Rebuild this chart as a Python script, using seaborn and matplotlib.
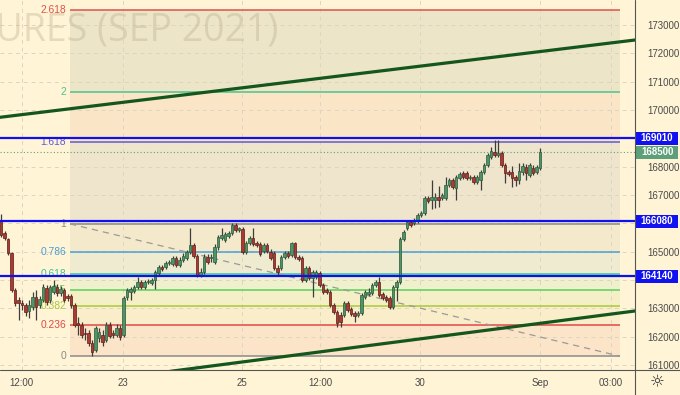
import matplotlib
matplotlib.use("Agg")
import matplotlib.pyplot as plt
import matplotlib.transforms as mtransforms
from matplotlib.patches import Rectangle
from matplotlib.lines import Line2D
import numpy as np
import pandas as pd
import seaborn as sns

# ---------------- data (candles) ----------------
opens = [
    166120, 165660, 165450, 164950, 163650, 163290, 163190, 163120, 162900, 163050,
    163400, 163120, 163290, 163720, 163290, 163580, 163750, 163540, 163650, 163430,
    163430, 163120, 162480, 162410, 162130, 162130, 161780, 161530, 161950, 162060,
    161880, 162410, 162130, 162060, 162310, 162060, 163400, 163580, 163610, 163750,
    163930, 163750, 163930, 163890, 164000, 164250, 164460, 164460, 164600, 164560,
    164780, 164530, 164710, 164780, 164990, 165230, 164850, 164180, 164280, 164810,
    164780, 164630, 165160, 165480, 165410, 165550, 165660, 165940, 165760, 165800,
    164990, 165310, 165480, 165310, 165270, 165020, 165230, 164990, 164950, 164420,
    164420, 164810, 164950, 164880, 165310, 164810, 164780, 164000, 164420, 164070,
    164110, 164250, 163820, 163650, 163580, 163120, 162870, 162760, 162760, 163190,
    162980, 162830, 162760, 162830, 163400, 163510, 163540, 163820, 163930, 163510,
    163400, 163360, 163050, 163750, 163930, 165450, 165830, 166050, 166010, 166080,
    166290, 166360, 166890, 166820, 166820, 166930, 166890, 166890, 167350, 167530,
    167250, 167600, 167780, 167780, 167600, 167630, 167460, 167530, 167810, 168060,
    168340, 168520, 168410, 168480, 168060, 167810, 167810, 167630, 167530, 167810,
    167990, 167710, 167950, 167810, 167950,
]
highs = [
    166330, 165730, 165480, 164990, 163720, 163400, 163290, 163190, 163290, 163580,
    163650, 163430, 163860, 163820, 163820, 164000, 163860, 163790, 163720, 163510,
    163510, 163190, 162690, 162520, 162310, 162230, 161880, 162380, 162310, 162230,
    162520, 162520, 162230, 162450, 162410, 163430, 163720, 163750, 163820, 164110,
    164000, 164000, 164030, 164070, 164350, 164530, 164530, 164670, 164710, 164850,
    164850, 164810, 164950, 165060, 165830, 165310, 164920, 164420, 164920, 164920,
    164920, 165270, 165590, 165830, 165690, 165730, 166010, 166010, 165870, 165870,
    165380, 165550, 165830, 165380, 165340, 165310, 165310, 165090, 165020, 164530,
    164880, 165020, 165020, 165340, 165340, 164880, 164850, 164490, 164490, 164350,
    164350, 164320, 163890, 163720, 163650, 163190, 162940, 162870, 163260, 163260,
    163050, 162900, 162900, 163540, 163650, 163720, 163890, 164000, 164110, 163580,
    163470, 163430, 163820, 164000, 165520, 165760, 166120, 166120, 166190, 166360,
    166430, 166960, 166960, 167530, 167070, 167320, 167070, 167630, 167600, 167600,
    167710, 167810, 167850, 167850, 167710, 167710, 167710, 167880, 168130, 168480,
    168690, 168940, 168940, 168550, 168130, 167880, 168020, 167710, 168130, 168130,
    168090, 168130, 168060, 168060, 168660,
]
lows = [
    165520, 165410, 164880, 163580, 163080, 162590, 162940, 162730, 162660, 162940,
    162590, 163010, 163220, 163120, 163190, 163510, 163430, 163430, 163220, 163260,
    163010, 162340, 162060, 161950, 161880, 161670, 161320, 161460, 161810, 161670,
    161810, 161950, 161950, 161990, 161880, 161990, 163290, 163290, 163540, 163680,
    163680, 163680, 163860, 163820, 163680, 164180, 164320, 164390, 164530, 164490,
    164460, 164460, 164630, 164710, 164920, 164780, 164110, 164110, 164210, 164560,
    164630, 164560, 165060, 165410, 165340, 165480, 165590, 165690, 165690, 164920,
    164920, 165230, 165200, 165160, 164850, 164950, 164950, 164710, 164350, 164180,
    164350, 164740, 164780, 164810, 164740, 164670, 163930, 163930, 164000, 163400,
    164030, 163750, 163510, 163510, 163050, 162800, 162340, 162340, 162690, 162870,
    162730, 162520, 162690, 162760, 163330, 163430, 163470, 163750, 163400, 163290,
    163220, 162980, 162980, 163260, 163860, 165380, 165760, 165870, 165940, 166010,
    166220, 166290, 166720, 166510, 166540, 166580, 166820, 166820, 167280, 167210,
    166820, 167530, 167560, 167530, 167530, 167390, 167390, 167180, 167740, 167990,
    168270, 168340, 168340, 167990, 167420, 167670, 167280, 167320, 167390, 167710,
    167530, 167630, 167710, 167740, 167880,
]
closes = [
    165590, 165480, 164950, 163650, 163190, 163190, 163120, 162870, 163120, 163400,
    163050, 163330, 163750, 163220, 163750, 163790, 163540, 163680, 163290, 163360,
    163120, 162410, 162410, 162060, 162090, 161780, 161460, 162310, 162160, 161810,
    162410, 162020, 162060, 162310, 161990, 163360, 163650, 163680, 163750, 163930,
    163750, 163930, 163960, 164000, 164280, 164460, 164390, 164600, 164630, 164780,
    164530, 164710, 164850, 164990, 165230, 164850, 164180, 164280, 164810, 164630,
    164810, 165160, 165520, 165590, 165620, 165660, 165940, 165760, 165830, 164990,
    165310, 165480, 165270, 165230, 164920, 165230, 165020, 164780, 164420, 164280,
    164810, 164950, 164850, 165310, 164810, 164740, 164000, 164420, 164070, 164280,
    164280, 163820, 163580, 163580, 163120, 162870, 162480, 162520, 163190, 162940,
    162800, 162730, 162830, 163470, 163580, 163560, 163820, 163930, 163470, 163360,
    163290, 163050, 163750, 163930, 165450, 165690, 166050, 165940, 166120, 166290,
    166360, 166890, 166790, 166930, 166930, 166820, 167000, 167350, 167530, 167280,
    167630, 167740, 167630, 167600, 167630, 167460, 167630, 167810, 168060, 168410,
    168550, 168410, 168480, 168060, 167780, 167740, 167600, 167530, 167850, 168020,
    167780, 168060, 167780, 167990, 168500,
]

time_tick_pos = [5.91, 34.77, 68.77, 91.14, 119.71, 154.0, 174.2]
time_tick_labels = ["12:00", "23", "25", "12:00", "30", "Sep", "03:00"]
price_ticks = [161000, 162000, 163000, 164000, 165000, 166000, 167000,
               168000, 169000, 170000, 171000, 172000, 173000]
price_tick_labels = ["161000", "162000", "163000", "", "165000", "", "167000",
                     "168000", "", "170000", "171000", "172000", "173000"]

fib_ratios = [0, 0.236, 0.382, 0.5, 0.618, 0.786, 1, 1.618, 2, 2.618]
fib_labels = ["0", "0.236", "0.382", "0.5", "0.618", "0.786", "1", "1.618", "2", "2.618"]
fib_price_0 = 161310
fib_price_1 = 165980
fib_x_span = [19.71, 176.86]

key_levels = [169010, 166080, 164140]
last_price = 168500

upper_trend_x = [-0.29, 181.14]
upper_trend_p = [169742, 172470]
lower_trend_x = [48.3, 181.14]
lower_trend_p = [160775, 162906]

# ---------------- styles ----------------
BG = "#fff4d6"
fib_line_colors = ["#8a8a8a", "#e04848", "#a9c93a", "#5ccf5c", "#3cc49a",
                   "#4a9fd4", "#8a8a8a", "#5b5bd6", "#4cc38a", "#e0524a"]
zone_colors = ["#fbe4c7", "#f9edca", "#f4efc6", "#eff0cc", "#eeebd0",
               "#f4eacb", "#eee5cc", "#fbe5c7", "#ece5c7"]

sns.set_theme(style="white")
plt.rcParams["font.family"] = ["Liberation Sans", "DejaVu Sans"]

fig = plt.figure(figsize=(6.8, 3.95), dpi=100, facecolor=BG)
ax = fig.add_axes([0, 25 / 395, 635 / 680, 370 / 395])
ax.set_facecolor(BG)

x_min, x_max = -0.286, 181.14
y_min, y_max = 160823, 173882
ax.set_xlim(x_min, x_max)
ax.set_ylim(y_min, y_max)

# grid
for p in price_ticks:
    ax.axhline(p, color="#dcd5c2", lw=0.7, ls=(0, (4, 4)), zorder=0.4)
for t in time_tick_pos:
    ax.axvline(t, color="#dcd5c2", lw=0.7, ls=(0, (4, 4)), zorder=0.4)

# fib zones and lines
fib_prices = [fib_price_0 + r * (fib_price_1 - fib_price_0) for r in fib_ratios]
for i in range(len(fib_prices) - 1):
    ax.fill_between(fib_x_span, fib_prices[i], fib_prices[i + 1],
                    color=zone_colors[i], lw=0, zorder=0.3)

# watermark
ax.text(278 / 635, (370 - 40) / 370, "RTS FUTURES (SEP 2021)", transform=ax.transAxes,
        ha="right", va="baseline", fontsize=27, color="#b5a684", alpha=0.32,
        family=["Open Sans", "DejaVu Sans"], zorder=0.5)

for p, c, lab in zip(fib_prices, fib_line_colors, fib_labels):
    ax.plot(fib_x_span, [p, p], color=c, lw=1.1, zorder=1, solid_capstyle="butt")
    ax.text(18.6, p, lab, color=c, fontsize=7.4, ha="right", va="center", zorder=1)

# fib anchor dashed line
sns.lineplot(x=fib_x_span, y=[fib_price_1, fib_price_0], ax=ax, color="#9a9a9a",
             lw=0.9, linestyle=(0, (5, 4)), zorder=1.1, sort=False)

# trend lines
sns.lineplot(x=upper_trend_x, y=upper_trend_p, ax=ax, color="#14561c", lw=2.3,
             zorder=2, sort=False)
sns.lineplot(x=lower_trend_x, y=lower_trend_p, ax=ax, color="#14561c", lw=2.3,
             zorder=2, sort=False)

# last price dotted line
ax.axhline(last_price, color="#5aa37a", lw=0.8, ls=(0, (1, 2)), zorder=1.2)

# candles
df = pd.DataFrame({"o": opens, "h": highs, "l": lows, "c": closes})
df["i"] = np.arange(len(df))
up = df["c"] >= df["o"]
ax.vlines(df["i"], df["l"], df["h"], color="#3d3d3d", lw=0.9, zorder=3)
body_bottom = np.minimum(df["o"], df["c"])
body_h = np.maximum((df["c"] - df["o"]).abs(), 25)
ax.bar(df["i"], body_h, bottom=body_bottom, width=0.7,
       color=np.where(up, "#4f9466", "#ad3a31"),
       edgecolor=np.where(up, "#2b5a3a", "#5e1d18"), lw=0.5, zorder=4)

# key blue levels
for lv in key_levels:
    ax.axhline(lv, color="#1010ee", lw=1.6, zorder=5)

# axes / ticks
for s in ax.spines.values():
    s.set_visible(False)
ax.yaxis.tick_right()
ax.set_yticks(price_ticks)
ax.set_yticklabels(price_tick_labels)
ax.set_xticks(time_tick_pos)
ax.set_xticklabels(time_tick_labels)
ax.tick_params(axis="y", length=0, pad=9, labelsize=7, labelcolor="#4a4a4a")
ax.tick_params(axis="x", length=0, pad=5.5, labelsize=7, labelcolor="#4a4a4a")
ax.grid(False)

# price boxes on right axis
blend = mtransforms.blended_transform_factory(ax.transAxes, ax.transData)
box_h = 13 * (y_max - y_min) / 370
for lv in key_levels:
    ax.add_patch(Rectangle((1.0012, lv - box_h / 2), 0.0671, box_h, transform=blend,
                           facecolor="#1212f0", edgecolor="none", clip_on=False, zorder=10))
    ax.text(1.0348, lv, f"{lv}", transform=blend, ha="center", va="center",
            color="white", fontsize=7, fontweight="bold", clip_on=False, zorder=11)
ax.add_patch(Rectangle((1.0012, last_price - box_h / 2), 0.0671, box_h, transform=blend,
                       facecolor="#5c9f78", edgecolor="none", clip_on=False, zorder=10))
ax.text(1.0348, last_price, f"{last_price}", transform=blend, ha="center", va="center",
        color="white", fontsize=7, fontweight="bold", clip_on=False, zorder=11)

# frame lines
fig.add_artist(Line2D([0, 1], [25 / 395, 25 / 395], transform=fig.transFigure,
                      color="#555555", lw=0.8))
fig.add_artist(Line2D([635 / 680, 635 / 680], [0, 1], transform=fig.transFigure,
                      color="#555555", lw=0.8))
fig.text(657 / 680, 1 - 382 / 395, "\u263c", ha="center", va="center", fontsize=12,
         color="#333333", family="DejaVu Sans")

fig.savefig("out.png", dpi=100, facecolor=BG)
